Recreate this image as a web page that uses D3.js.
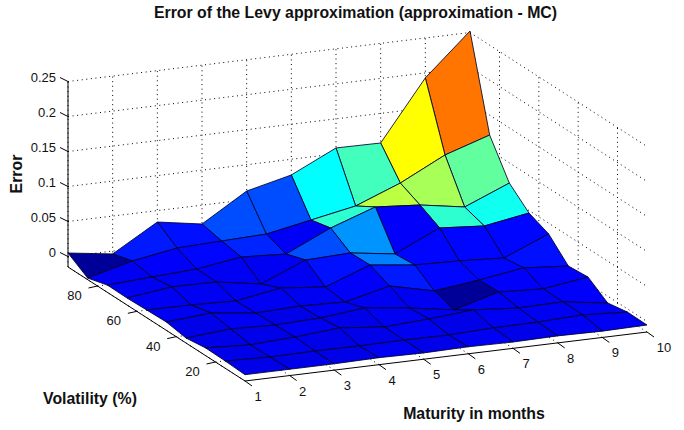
<!DOCTYPE html>
<html><head><meta charset="utf-8">
<script src="https://cdnjs.cloudflare.com/ajax/libs/d3/7.8.5/d3.min.js"></script>
<style>html,body{margin:0;padding:0;background:#fff}svg{display:block}text{font-family:"Liberation Sans",Arial,sans-serif;fill:#111}</style>
</head><body><svg id="c" width="684" height="430"></svg>
<script>
// Data
const maturity = [1,2,3,4,5,6,7,8,9,10];
const volatility = [5,15,25,35,45,55,65,75,85,95];
const errVol5  = [-0.006,-0.006,-0.006,-0.005,-0.006,-0.005,-0.006,-0.005,-0.006,-0.005];
const errVol15 = [-0.0046,-0.0066,-0.0059,-0.0064,-0.0057,-0.0063,-0.004,-0.0033,-0.001,-0.0046];
const errVol25 = [-0.004,-0.0074,-0.0039,0.0013,-0.0051,-0.0014,0.0037,-0.0013,-0.0004,-0.0097];
const errVol35 = [-0.0079,-0.0027,-0.0049,-0.0026,0.0039,-0.0039,-0.0144,0.0034,0,0.0093];
const errVol45 = [-0.0031,0.002,-0.0059,-0.0036,-0.0057,0.0094,-0.0054,0.0024,0.0119,0.0069];
const errVol55 = [-0.004,-0.0047,-0.0067,0.004,-0.0023,0.0213,0.0136,0.0116,0.008,0.0346];
const errVol65 = [-0.005,0.003,0.0023,-0.0083,0.0181,0.0204,0.0113,0.0406,0.0357,0.0464];
const errVol75 = [-0.0046,-0.0009,0.0027,0.0121,0.0086,0.038,0.0603,0.0553,0.0447,0.0711];
const errVol85 = [-0.0127,0.0039,0.0146,0.0169,0.019,0.0313,0.0436,0.0686,0.1009,0.1216];
const errVol95 = [0.005,-0.0041,0.0337,0.0231,0.0624,0.0776,0.1084,0.1077,0.1929,0.2521];
const errorRows = [errVol5,errVol15,errVol25,errVol35,errVol45,errVol55,errVol65,errVol75,errVol85,errVol95];
// colour level of each face (0..1 along the jet map)
const cellVol5  = [.10,.10,.10,.11,.10,.11,.10,.11,.11];
const cellVol15 = [.10,.11,.10,.10,.11,.10,.11,.11,.11];
const cellVol25 = [.10,.10,.11,.10,.11,.11,.11,.11,.12];
const cellVol35 = [.10,.11,.10,.11,.11,.11,.01,.12,.12];
const cellVol45 = [.11,.11,.11,.11,.12,.15,.13,.13,.14];
const cellVol55 = [.11,.11,.11,.11,.14,.25,.13,.13,.13];
const cellVol65 = [.11,.11,.11,.11,.20,.27,.12,.42,.39];
const cellVol75 = [.11,.12,.13,.16,.115,.42,.56,.54,.47];
const cellVol85 = [.01,.15,.14,.20,.20,.375,.44,.625,.76];
const cellRows = [cellVol5,cellVol15,cellVol25,cellVol35,cellVol45,cellVol55,cellVol65,cellVol75,cellVol85];
const errorTicks = [0,0.05,0.1,0.15,0.2,0.25];
const errorTickLabels = ["0","0.05","0.1","0.15","0.2","0.25"];
const volTicks = [20,40,60,80];
const titleText = "Error of the Levy approximation (approximation - MC)";

const svg = d3.select("#c");
const sx = d3.scaleLinear([1,10],[0,1]);
const sy = d3.scaleLinear([5,95],[0,1]);
const sz = d3.scaleLinear([-0.015,0.25],[0,1]);
const jet = d3.scaleLinear([0,.125,.375,.625,.875,1],
  ["#00008f","#0000ff","#00ffff","#ffff00","#ff0000","#800000"]).clamp(true);
function project(x,y,z){
  const a=sx(x),b=sy(y),c=sz(z);
  return [245+402*a-177*b, 381-49*a-114*b-185.5*c];
}
const line = d3.line();
const zMin=sz.domain()[0], zMax=sz.domain()[1];
const xMax=10,xMin=1,yMax=95,yMin=5;
function dotted(pts){svg.append("path").attr("d",line(pts)).attr("fill","none")
  .attr("stroke","#000").attr("stroke-width",1).attr("stroke-dasharray","1 3.6");}
function solid(pts){svg.append("path").attr("d",line(pts)).attr("fill","none")
  .attr("stroke","#000").attr("stroke-width",1);}

// back walls and floor grid
errorTicks.forEach(z=>{
  dotted([project(xMin,yMax,z),project(xMax,yMax,z)]);
  dotted([project(xMax,yMax,z),project(xMax,yMin,z)]);
});
maturity.forEach(x=>{
  dotted([project(x,yMax,zMin),project(x,yMax,zMax)]);
  dotted([project(x,yMin,zMin),project(x,yMax,zMin)]);
});
volTicks.forEach(y=>{
  dotted([project(xMax,y,zMin),project(xMax,y,zMax)]);
  dotted([project(xMin,y,zMin),project(xMax,y,zMin)]);
});

// axis lines
solid([project(xMin,yMax,zMin),project(xMin,yMax,zMax)]);
solid([project(xMin,yMax,zMin),project(xMin,yMin,zMin)]);
solid([project(xMin,yMin,zMin),project(xMax,yMin,zMin)]);

// surface, painted back to front
const faces=[];
for(let j=volatility.length-2;j>=0;j--){
  for(let i=maturity.length-2;i>=0;i--){
    faces.push({i,j});
  }
}
svg.append("g").selectAll("path").data(faces).join("path")
  .attr("d",f=>line([
    project(maturity[f.i],volatility[f.j],errorRows[f.j][f.i]),
    project(maturity[f.i+1],volatility[f.j],errorRows[f.j][f.i+1]),
    project(maturity[f.i+1],volatility[f.j+1],errorRows[f.j+1][f.i+1]),
    project(maturity[f.i],volatility[f.j+1],errorRows[f.j+1][f.i])
  ])+"Z")
  .attr("fill",f=>jet(cellRows[f.j][f.i]))
  .attr("stroke","#00002a").attr("stroke-width",0.85).attr("stroke-linejoin","round");

// ticks and labels
errorTicks.forEach((z,k)=>{
  const p=project(xMin,yMax,z);
  solid([p,[p[0]-8,p[1]-4]]);
  svg.append("text").attr("x",p[0]-12).attr("y",p[1]-4.5).attr("text-anchor","end")
    .attr("dominant-baseline","central").attr("font-size",13).text(errorTickLabels[k]);
});
volTicks.forEach(y=>{
  const p=project(xMin,y,zMin);
  solid([p,[p[0]-9,p[1]+2]]);
  svg.append("text").attr("x",p[0]-23).attr("y",p[1]+9.5).attr("text-anchor","middle")
    .attr("dominant-baseline","central").attr("font-size",13).text(y);
});
maturity.forEach(x=>{
  const p=project(x,yMin,zMin);
  solid([p,[p[0]+7,p[1]+5]]);
  svg.append("text").attr("x",p[0]+(x==10?17:13)).attr("y",p[1]+15.5).attr("text-anchor","middle")
    .attr("dominant-baseline","central").attr("font-size",13).text(x);
});

// titles
svg.append("text").attr("x",355.5).attr("y",18).attr("text-anchor","middle")
  .attr("font-size",15.85).attr("font-weight","bold").text(titleText);
svg.append("text").attr("transform","translate(22,174) rotate(-90)").attr("text-anchor","middle")
  .attr("font-size",15.85).attr("font-weight","bold").text("Error");
svg.append("text").attr("x",90).attr("y",404).attr("text-anchor","middle")
  .attr("font-size",15.85).attr("font-weight","bold").text("Volatility (%)");
svg.append("text").attr("x",474).attr("y",419).attr("text-anchor","middle")
  .attr("font-size",15.85).attr("font-weight","bold").text("Maturity in months");
</script></body></html>
